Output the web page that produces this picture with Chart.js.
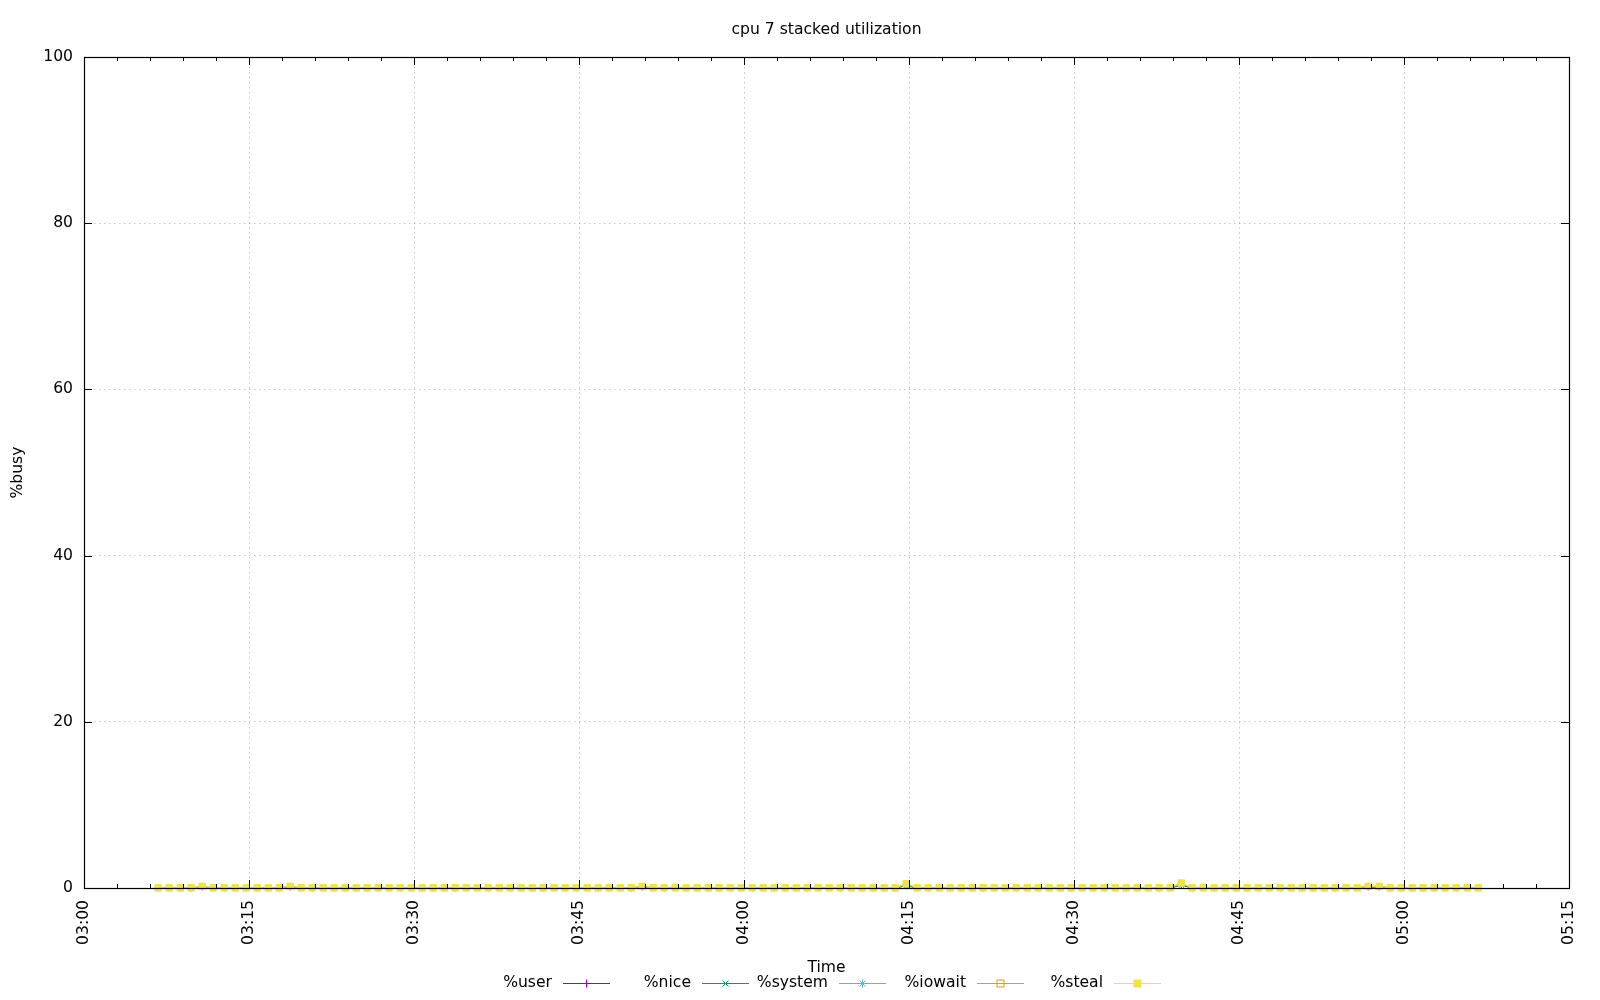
<!DOCTYPE html>
<html><head><meta charset="utf-8">
<script src="https://cdn.jsdelivr.net/npm/chart.js@4"></script>
<style>html,body{margin:0;padding:0;background:#fff}#wrap{width:1600px;height:1000px}</style>
</head><body><div id="wrap"><canvas id="c" width="1600" height="1000"></canvas></div>
<script>
const chartTitle = "cpu 7 stacked utilization";
const xTitle = "Time";
const yTitle = "%busy";
const seriesNames = ["%user", "%nice", "%system", "%iowait", "%steal"];
const xTickLabels = ["03:00","03:15","03:30","03:45","04:00","04:15","04:30","04:45","05:00","05:15"];
const yTickLabels = ["0","20","40","60","80","100"];

const times = [
"03:06:45","03:07:45","03:08:45","03:09:45","03:10:45","03:11:45","03:12:45","03:13:45","03:14:45","03:15:45",
"03:16:45","03:17:45","03:18:45","03:19:45","03:20:45","03:21:45","03:22:45","03:23:45","03:24:45","03:25:45",
"03:26:45","03:27:45","03:28:45","03:29:45","03:30:45","03:31:45","03:32:45","03:33:45","03:34:45","03:35:45",
"03:36:45","03:37:45","03:38:45","03:39:45","03:40:45","03:41:45","03:42:45","03:43:45","03:44:45","03:45:45",
"03:46:45","03:47:45","03:48:45","03:49:45","03:50:45","03:51:45","03:52:45","03:53:45","03:54:45","03:55:45",
"03:56:45","03:57:45","03:58:45","03:59:45","04:00:45","04:01:45","04:02:45","04:03:45","04:04:45","04:05:45",
"04:06:45","04:07:45","04:08:45","04:09:45","04:10:45","04:11:45","04:12:45","04:13:45","04:14:45","04:15:45",
"04:16:45","04:17:45","04:18:45","04:19:45","04:20:45","04:21:45","04:22:45","04:23:45","04:24:45","04:25:45",
"04:26:45","04:27:45","04:28:45","04:29:45","04:30:45","04:31:45","04:32:45","04:33:45","04:34:45","04:35:45",
"04:36:45","04:37:45","04:38:45","04:39:45","04:40:45","04:41:45","04:42:45","04:43:45","04:44:45","04:45:45",
"04:46:45","04:47:45","04:48:45","04:49:45","04:50:45","04:51:45","04:52:45","04:53:45","04:54:45","04:55:45",
"04:56:45","04:57:45","04:58:45","04:59:45","05:00:45","05:01:45","05:02:45","05:03:45","05:04:45","05:05:45",
"05:06:45"];

const userVals = [
0.02,0.02,0.02,0.02,0.12,0.02,0.02,0.02,0.02,0.02,
0.02,0.02,0.12,0.02,0.02,0.02,0.02,0.02,0.02,0.02,
0.02,0.02,0.02,0.02,0.02,0.02,0.02,0.02,0.02,0.02,
0.02,0.02,0.02,0.02,0.02,0.02,0.02,0.02,0.02,0.02,
0.02,0.02,0.02,0.02,0.12,0.02,0.02,0.02,0.02,0.02,
0.02,0.02,0.02,0.02,0.02,0.02,0.02,0.02,0.02,0.02,
0.02,0.02,0.02,0.02,0.02,0.02,0.02,0.02,0.27,0.02,
0.02,0.02,0.02,0.02,0.02,0.02,0.02,0.02,0.02,0.02,
0.02,0.02,0.02,0.02,0.02,0.02,0.02,0.02,0.02,0.02,
0.02,0.02,0.02,0.33,0.02,0.02,0.02,0.02,0.02,0.02,
0.02,0.02,0.02,0.02,0.02,0.02,0.02,0.02,0.02,0.02,
0.12,0.12,0.02,0.02,0.02,0.02,0.02,0.02,0.02,0.02,
0.02];
const niceVals = [
0,0,0,0,0,0,0,0,0,0, 0,0,0,0,0,0,0,0,0,0,
0,0,0,0,0,0,0,0,0,0, 0,0,0,0,0,0,0,0,0,0,
0,0,0,0,0,0,0,0,0,0, 0,0,0,0,0,0,0,0,0,0,
0,0,0,0,0,0,0,0,0,0, 0,0,0,0,0,0,0,0,0,0,
0,0,0,0,0,0,0,0,0,0, 0,0,0,0,0,0,0,0,0,0,
0,0,0,0,0,0,0,0,0,0, 0,0,0,0,0,0,0,0,0,0,
0];
const systemVals = [
0,0,0,0,0.06,0,0,0,0,0, 0,0,0.06,0,0,0,0,0,0,0,
0,0,0,0,0,0,0,0,0,0, 0,0,0,0,0,0,0,0,0,0,
0,0,0,0,0.06,0,0,0,0,0, 0,0,0,0,0,0,0,0,0,0,
0,0,0,0,0,0,0,0,0.2,0, 0,0,0,0,0,0,0,0,0,0,
0,0,0,0,0,0,0,0,0,0, 0,0,0,0.22,0,0,0,0,0,0,
0,0,0,0,0,0,0,0,0,0, 0.08,0.08,0,0,0,0,0,0,0,0,
0];
const iowaitVals = [
0,0,0,0,0,0,0,0,0,0, 0,0,0,0,0,0,0,0,0,0,
0,0,0,0,0,0,0,0,0,0, 0,0,0,0,0,0,0,0,0,0,
0,0,0,0,0,0,0,0,0,0, 0,0,0,0,0,0,0,0,0,0,
0,0,0,0,0,0,0,0,0.03,0, 0,0,0,0,0,0,0,0,0,0,
0,0,0,0,0,0,0,0,0,0, 0,0,0,0.05,0,0,0,0,0,0,
0,0,0,0,0,0,0,0,0,0, 0,0,0,0,0,0,0,0,0,0,
0];
const stealVals = [
0,0,0,0,0.02,0,0,0,0,0, 0,0,0.02,0,0,0,0,0,0,0,
0,0,0,0,0,0,0,0,0,0, 0,0,0,0,0,0,0,0,0,0,
0,0,0,0,0.02,0,0,0,0,0, 0,0,0,0,0,0,0,0,0,0,
0,0,0,0,0,0,0,0,0,0, 0,0,0,0,0,0,0,0,0,0,
0,0,0,0,0,0,0,0,0,0, 0,0,0,0,0,0,0,0,0,0,
0,0,0,0,0,0,0,0,0,0, 0,0,0,0,0,0,0,0,0,0,
0];

const colors = ["#9400d3", "#009e73", "#56b4e9", "#e69f00", "#f0e442"];
const markers = ["cross", "crossRot", "star", "rectOpen", "rect"];

function toMin(t){ const p = t.split(":").map(Number); return p[0]*60 + p[1] + p[2]/60 - 180; }
const FONT = '"DejaVu Sans", sans-serif';
const FS = 15.6;
Chart.defaults.font.family = FONT;
Chart.defaults.font.size = FS;
Chart.defaults.color = '#000';

// stacked (cumulative) table, as gnuplot plots it: each series sits on the ones before it
const allVals = [userVals, niceVals, systemVals, iowaitVals, stealVals];
const running = times.map(() => 0);
const stackedTable = allVals.map(vals => vals.map((v, j) => (running[j] += v)));

const datasets = stackedTable.map((vals, i) => ({
  label: seriesNames[i],
  data: times.map((t, j) => ({x: toMin(t), y: vals[j]})),
  borderColor: colors[i],
  backgroundColor: colors[i],
  borderWidth: 1,
  pointStyle: markers[i] === 'rectOpen' ? 'rect' : markers[i],
  pointRadius: markers[i] === 'rect' ? 4.6 : 3.5,
  pointBorderWidth: 1,
  pointBorderColor: colors[i],
  pointBackgroundColor: markers[i] === 'rectOpen' ? 'rgba(0,0,0,0)' : colors[i],
  fill: false,
  tension: 0,
  clip: false,
  order: 4 - i
}));

function drawMarker(ctx, style, x, y, r, color){
  ctx.save();
  ctx.strokeStyle = color; ctx.fillStyle = color; ctx.lineWidth = 1;
  ctx.beginPath();
  if (style === 'cross'){ ctx.moveTo(x-r,y); ctx.lineTo(x+r,y); ctx.moveTo(x,y-r); ctx.lineTo(x,y+r); ctx.stroke(); }
  else if (style === 'crossRot'){ const d=r*0.75; ctx.moveTo(x-d,y-d); ctx.lineTo(x+d,y+d); ctx.moveTo(x-d,y+d); ctx.lineTo(x+d,y-d); ctx.stroke(); }
  else if (style === 'star'){ const d=r*0.75; ctx.moveTo(x-r,y); ctx.lineTo(x+r,y); ctx.moveTo(x,y-r); ctx.lineTo(x,y+r); ctx.moveTo(x-d,y-d); ctx.lineTo(x+d,y+d); ctx.moveTo(x-d,y+d); ctx.lineTo(x+d,y-d); ctx.stroke(); }
  else if (style === 'rectOpen'){ ctx.strokeRect(x-3.5,y-3.5,7,7); }
  else if (style === 'rect'){ ctx.fillRect(x-4,y-4,8,8); }
  ctx.restore();
}

const legendTextRight = [552, 691, 828, 966, 1103];
const legendPlugin = {
  id: 'gpLegend',
  afterDraw(chart){
    const ctx = chart.ctx;
    const ly = 983;
    ctx.save();
    ctx.font = FS + 'px ' + FONT;
    ctx.fillStyle = '#000';
    ctx.textAlign = 'right';
    ctx.textBaseline = 'middle';
    chart.data.datasets.forEach((ds, i) => {
      const rx = legendTextRight[i];
      ctx.fillText(ds.label, rx, ly);
      ctx.strokeStyle = ds.borderColor; ctx.lineWidth = 1;
      ctx.beginPath(); ctx.moveTo(rx + 11, ly + 0.5); ctx.lineTo(rx + 58, ly + 0.5); ctx.stroke();
      drawMarker(ctx, markers[i], rx + 34.5, ly + 0.5, 4, ds.borderColor);
    });
    ctx.restore();
  }
};

const minorStep = 3;
const framePlugin = {
  id: 'gpFrame',
  afterDatasetsDraw(chart){
    const {ctx, chartArea: a, scales: {x, y}} = chart;
    ctx.save();
    ctx.strokeStyle = '#000'; ctx.lineWidth = 1;
    ctx.beginPath();
    for (let v = x.min; v <= x.max + 1e-9; v += minorStep){
      const px = Math.round(x.getPixelForValue(v)) + 0.5;
      const major = Math.abs(v/15 - Math.round(v/15)) < 1e-6;
      const len = major ? 8 : 4;
      ctx.moveTo(px, a.bottom); ctx.lineTo(px, a.bottom - len);
      ctx.moveTo(px, a.top); ctx.lineTo(px, a.top + len);
    }
    y.ticks.forEach(t => {
      const py = Math.round(y.getPixelForValue(t.value)) + 0.5;
      ctx.moveTo(a.left, py); ctx.lineTo(a.left + 8, py);
      ctx.moveTo(a.right, py); ctx.lineTo(a.right - 8, py);
    });
    ctx.stroke();
    ctx.lineWidth = 1.2;
    ctx.strokeRect(Math.round(a.left) + 0.5, Math.round(a.top) + 0.5, Math.round(a.right - a.left), Math.round(a.bottom - a.top));
    ctx.restore();
  }
};

const LH = FS * 1.2;
new Chart(document.getElementById('c'), {
  type: 'line',
  data: { datasets },
  options: {
    responsive: false,
    animation: false,
    devicePixelRatio: 1,
    layout: { padding: { left: 0, right: 31, top: 0, bottom: 0 } },
    plugins: {
      legend: { display: false },
      tooltip: { enabled: false },
      title: { display: true, fullSize: false, text: chartTitle, color: '#000', font: { size: FS, weight: 'normal', family: FONT },
        padding: { top: 29.8 - LH/2, bottom: 57 - (29.8 - LH/2) - LH } }
    },
    scales: {
      x: {
        type: 'linear', min: 0, max: 135,
        afterFit(s){ s.height = 112; },
        ticks: { stepSize: 15, autoSkip: false, minRotation: 90, maxRotation: 90, padding: 12, color: '#000', font: { size: FS },
          callback: (v) => xTickLabels[Math.round(v / 15)] },
        grid: { drawTicks: false, color: 'rgba(0,0,0,0.22)', lineWidth: 1 },
        border: { display: false, dash: [1.5, 3.5] },
        title: { display: true, text: xTitle, color: '#000', font: { size: FS }, padding: { top: 0, bottom: 1000 - 967.5 - LH/2 } }
      },
      y: {
        type: 'linear', min: 0, max: 100,
        afterFit(s){ s.width = 84; },
        ticks: { stepSize: 20, padding: 11, color: '#000', font: { size: FS },
          callback: (v) => yTickLabels[Math.round(v / 20)] },
        grid: { drawTicks: false, color: 'rgba(0,0,0,0.22)', lineWidth: 1 },
        border: { display: false, dash: [1.5, 3.5] },
        title: { display: true, text: yTitle, color: '#000', font: { size: FS }, padding: { top: 18.4 - LH/2, bottom: 0 } }
      }
    }
  },
  plugins: [framePlugin, legendPlugin]
});
</script>
</body></html>
